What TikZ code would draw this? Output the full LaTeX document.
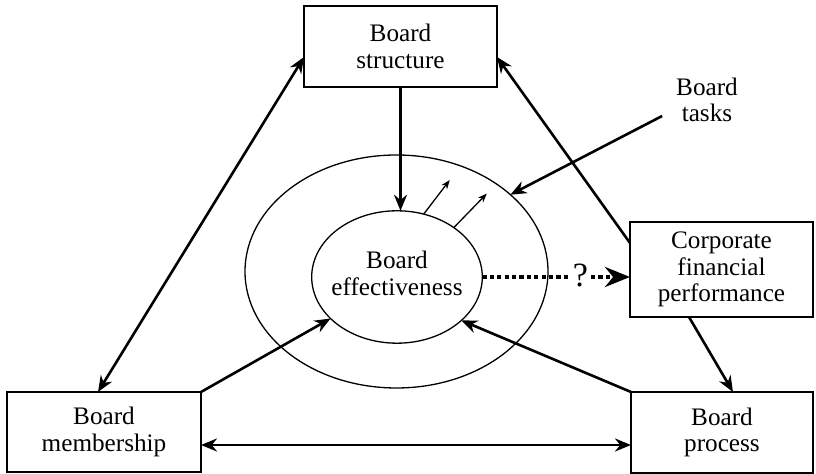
\documentclass[tikz,border=0pt]{standalone}
\usepackage{fontspec}
\setmainfont{Liberation Serif}
\usetikzlibrary{arrows.meta,calc,shapes.geometric}
\begin{document}
\begin{tikzpicture}[x=0.5pt,y=-0.5pt,
  every node/.style={font=\fontsize{12.6pt}{13.25pt}\selectfont, align=center},
  box/.style={draw, line width=0.75pt, inner sep=0pt, outer sep=0pt},
  oval/.style={draw, ellipse, line width=0.65pt, inner sep=0pt, outer sep=0pt},
  link/.style={line width=1.3pt, -{Stealth[length=8pt,width=6.5pt]}},
  twoway/.style={line width=1.3pt, {Stealth[length=8pt,width=6.5pt]}-{Stealth[length=8pt,width=6.5pt]}},
  spark/.style={line width=0.65pt, -{Stealth[length=4.5pt,width=3.5pt]}},
  dotline/.style={line width=2pt, dash pattern=on 2.1pt off 1.6pt}
]
\useasboundingbox (0,0) rectangle (816,474);

% the four boxes
\node[box, minimum width=96.5pt, minimum height=40.5pt] (str) at (400.5,46.5) {Board\\structure};
\node[box, minimum width=91.5pt, minimum height=47.5pt] (corp) at (721.5,269.5) {Corporate\\financial\\performance};
\node[box, minimum width=97pt, minimum height=40pt] (mem) at (104,432) {Board\\membership};
\node[box, minimum width=91pt, minimum height=40.5pt] (proc) at (722,432.5) {Board\\process};

% nested ellipses
\node[oval, minimum width=151.5pt, minimum height=116.5pt] (ring) at (396.5,271.5) {};
\node[oval, minimum width=85.3pt, minimum height=66.2pt] (eff) at (397,277) {};
\node (efflabel) at (397,273.5) {Board\\effectiveness};

% free label
\node (tasks) at (707,100) {Board\\tasks};

% connectors
\draw[twoway] ($(mem.north)+(-6,0)$) -- ($(str.west)+(0,10.5)$);
\draw[twoway] ($(mem.east)+(0,13)$) -- ($(proc.west)+(0,12.5)$);
\draw[link] (mem.north east) -- (eff.212);
\draw[link] (proc.north west) -- (eff.326);
\draw[link] ($(corp.west)+(0,-26.5)$) -- ($(str.east)+(0,10.5)$);
\draw[link] ($(corp.south)+(-32.5,0)$) -- ($(proc.north)+(11,0)$);
\draw[link] (str.south) -- (str.south |- eff.north);
\draw[link] ($(tasks.west)+(-7,16)$) -- (ring.34);

% small outward arrows
\draw[spark] (eff.67) -- ++(26,-34);
\draw[spark] (eff.41) -- ++(33,-34);

% dotted link with question mark
\node[inner sep=1.5pt, outer sep=0pt, font=\fontsize{17pt}{17pt}\selectfont] (q) at (580.5,275) {?};
\draw[dotline] (eff.east) -- (eff.east -| q.west);
\draw[dotline, -{Stealth[length=12.5pt,width=10pt]}] (eff.east -| q.east) -- (eff.east -| corp.west);
\end{tikzpicture}
\end{document}
